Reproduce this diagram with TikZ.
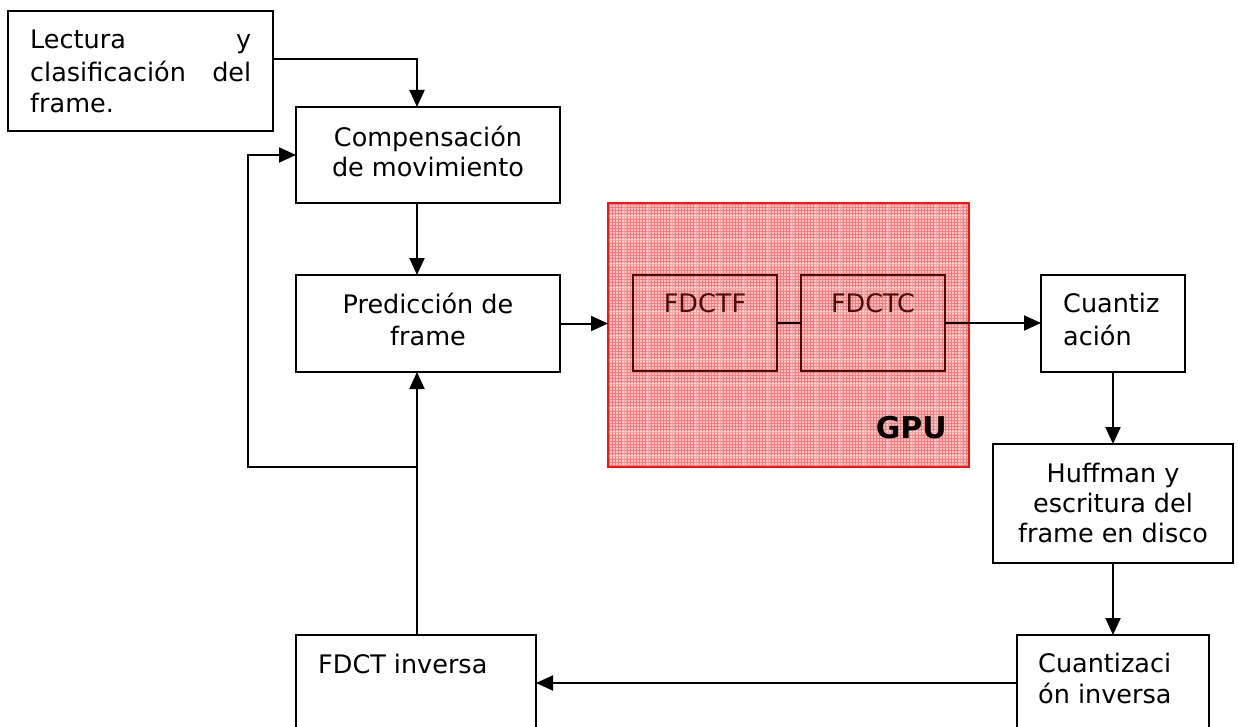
\documentclass[tikz,border=0pt]{standalone}
\usepackage{fontspec}
\setmainfont{DejaVu Sans}
\usetikzlibrary{arrows.meta}
\definecolor{gpuborder}{RGB}{235,25,25}
\definecolor{gpubase}{RGB}{249,190,190}
\definecolor{gpumesh}{RGB}{238,125,125}
\definecolor{innerink}{RGB}{75,12,12}

\begin{document}
\begin{tikzpicture}[x=1pt,y=-1pt,
  box/.style={draw=black, line width=2pt, inner sep=0pt, outer sep=0pt, anchor=north west},
  txt/.style={inner sep=0pt, font=\fontsize{25.5}{31}\selectfont, anchor=base},
  flow/.style={line width=2pt, -{Triangle[length=17pt,width=15pt]}},
  link/.style={line width=2pt}]

\useasboundingbox (0,0) rectangle (1238,727);
\clip (0,0) rectangle (1238,727);

% GPU region: pink meshed panel with a red frame
\node[anchor=north west, inner sep=0pt, outer sep=0pt,
      minimum width=361pt, minimum height=264pt] (gpu) at (608,203) {};
\fill[gpubase] (gpu.north west) rectangle (gpu.south east);
\begin{scope}
  \clip (gpu.north west) rectangle (gpu.south east);
  \draw[gpumesh, line width=0.7pt, step=3pt] (gpu.north west) grid (gpu.south east);
  \draw[white, opacity=0.3, line width=1.5pt, step=24pt] (gpu.north west) grid (gpu.south east);
\end{scope}
\draw[gpuborder, line width=2pt] (gpu.north west) rectangle (gpu.south east);

% processing blocks
\node[box, minimum width=265pt, minimum height=120pt] (lect) at (8,11) {};
\node[box, minimum width=264pt, minimum height=96pt]  (comp) at (296,107) {};
\node[box, minimum width=264pt, minimum height=97pt]  (pred) at (296,275) {};
\node[box, draw=innerink, minimum width=144pt, minimum height=96pt] (ftf) at (633,275) {};
\node[box, draw=innerink, minimum width=144pt, minimum height=96pt] (ftc) at (801,275) {};
\node[box, minimum width=144pt, minimum height=97pt]  (cuan) at (1041,275) {};
\node[box, minimum width=240pt, minimum height=119pt] (huff) at (993,444) {};
\node[box, minimum width=192pt, minimum height=120pt] (cinv) at (1017,635) {};
\node[box, minimum width=240pt, minimum height=120pt] (finv) at (296,635) {};

% block texts
\node[txt, anchor=base west] at (30,49)  {\hbox to 221pt{Lectura\hfill y}};
\node[txt, anchor=base west] at (30,82)  {\hbox to 221pt{clasificación\hfill del}};
\node[txt, anchor=base west] at (30,113) {frame.};
\node[txt] at (428,147) {Compensación};
\node[txt] at (428,177) {de movimiento};
\node[txt] at (428,313) {Predicción de};
\node[txt] at (428,345) {frame};
\node[txt, text=innerink] at (705,312) {FDCTF};
\node[txt, text=innerink] at (873,312) {FDCTC};
\node[txt, anchor=base east, font=\fontsize{30}{34}\selectfont\bfseries] at (947,438) {GPU};
\node[txt, anchor=base west] at (1063,312) {Cuantiz};
\node[txt, anchor=base west] at (1063,345) {ación};
\node[txt] at (1113,482) {Huffman y};
\node[txt] at (1113,512) {escritura del};
\node[txt] at (1113,542) {frame en disco};
\node[txt, anchor=base west] at (1038,672) {Cuantizaci};
\node[txt, anchor=base west] at (1038,703) {ón inversa};
\node[txt, anchor=base west] at (318,673) {FDCT inversa};

% connectors
\coordinate (tap) at (417,467);
\coordinate (loopx) at (248,155);
\draw[flow] ([yshift=-48pt]lect.north east) -| ([xshift=121pt]comp.north west);
\draw[flow] ([xshift=121pt]comp.south west) -- ([xshift=121pt]pred.north west);
\draw[flow] (pred.east) -- (gpu.west |- pred.east);
\draw[link] (ftf.east) -- (ftc.west);
\draw[flow] (ftc.east) -- (cuan.west |- ftc.east);
\draw[flow] (cuan.south) -- (cuan.south |- huff.north);
\draw[flow] (cuan.south |- huff.south) -- (cuan.south |- cinv.north);
\draw[flow] ([yshift=-48pt]cinv.north west) -- ([yshift=-48pt]finv.north east);
\draw[flow] ([xshift=121pt]finv.north west) -- ([xshift=121pt]pred.south west);
\draw[flow] (tap) -- (tap -| loopx) -- (loopx) -- ([yshift=-48pt]comp.north west);
\end{tikzpicture}
\end{document}
